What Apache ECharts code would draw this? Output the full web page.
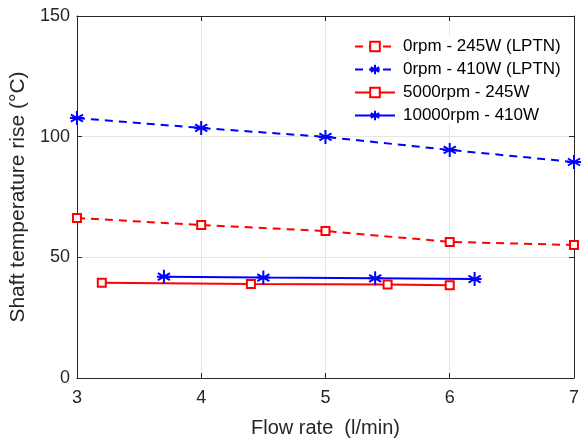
<!DOCTYPE html>
<html><head><meta charset="utf-8">
<script src="https://cdn.jsdelivr.net/npm/echarts@6/dist/echarts.min.js"></script>
<style>html,body{margin:0;padding:0;background:#fff;overflow:hidden}#c{width:582px;height:443px}</style>
</head><body><div id="c"></div>
<script>
const xLPTN = [3, 4, 5, 6, 7];
const y0rpm245 = [66.3, 63.4, 60.9, 56.4, 55.1];
const y0rpm410 = [107.7, 103.6, 99.9, 94.5, 89.5];
const x5000 = [3.2, 4.4, 5.5, 6.0];
const y5000 = [39.5, 39.0, 38.7, 38.4];
const x10000 = [3.7, 4.5, 5.4, 6.2];
const y10000 = [42.0, 41.6, 41.3, 41.0];
const seriesNames = ['0rpm - 245W (LPTN)', '0rpm - 410W (LPTN)', '5000rpm - 245W', '10000rpm - 410W'];

const RED = '#ff0000', BLUE = '#0000ff', AX = '#262626';
const STAR = 'path://M5,0L5,10M0.67,2.5L9.33,7.5M0.67,7.5L9.33,2.5M0,5L10,5';
const zip = (xs, ys) => xs.map((x, i) => [x, ys[i]]);
const font = 'Liberation Sans, Arial, sans-serif';

function mk(name, data, color, dashed, star) {
  return {
    name, type: 'line', data, xAxisIndex: 0, yAxisIndex: 0,
    symbol: star ? STAR : 'rect',
    symbolSize: star ? [14, 14] : 8,
    symbolKeepAspect: true,
    showSymbol: true,
    lineStyle: { color, width: 2, type: dashed ? [8, 6] : 'solid' },
    itemStyle: { color: star ? color : '#fff', borderColor: color, borderWidth: 2 },
    emphasis: { disabled: true },
    animation: false, z: 3
  };
}

const chart = echarts.init(document.getElementById('c'));
chart.setOption({
  animation: false,
  textStyle: { fontFamily: font },
  grid: { left: 74, right: 4, top: 16, bottom: 65, show: false },
  legend: {
    left: 352, top: 36, orient: 'vertical', itemGap: 6,
    itemWidth: 40, itemHeight: 12,
    backgroundColor: '#fff', padding: [2, 4, 2, 2],
    textStyle: { fontSize: 17, color: '#000', fontFamily: font, padding: [0, 0, 0, 3] },
    data: seriesNames
  },
  xAxis: [{
    type: 'value', min: 3, max: 7, interval: 1,
    name: 'Flow rate  (l/min)', nameLocation: 'middle', nameGap: 40,
    nameTextStyle: { fontSize: 20, color: AX, fontFamily: font },
    axisLine: { show: true, lineStyle: { color: AX, width: 1 } },
    axisTick: { show: true, inside: true, length: 5, lineStyle: { color: AX } },
    axisLabel: { fontSize: 18, color: AX, margin: 11, fontFamily: font },
    splitLine: { show: true, lineStyle: { color: '#e6e6e6', width: 1 } }
  }, {
    type: 'value', min: 3, max: 7, interval: 1, position: 'top',
    axisLine: { show: true, onZero: false, lineStyle: { color: AX, width: 1 } },
    axisTick: { show: true, inside: true, length: 5, lineStyle: { color: AX } },
    axisLabel: { show: false }, splitLine: { show: false }
  }],
  yAxis: [{
    type: 'value', min: 0, max: 150, interval: 50,
    name: 'Shaft temperature rise (°C)', nameLocation: 'middle', nameGap: 46,
    nameTextStyle: { fontSize: 21, color: AX, fontFamily: font },
    axisLine: { show: true, lineStyle: { color: AX, width: 1 } },
    axisTick: { show: true, inside: true, length: 5, lineStyle: { color: AX } },
    axisLabel: { fontSize: 18, color: AX, margin: 7, fontFamily: font },
    splitLine: { show: true, lineStyle: { color: '#e6e6e6', width: 1 } }
  }, {
    type: 'value', min: 0, max: 150, interval: 50, position: 'right',
    axisLine: { show: true, onZero: false, lineStyle: { color: AX, width: 1 } },
    axisTick: { show: true, inside: true, length: 5, lineStyle: { color: AX } },
    axisLabel: { show: false }, splitLine: { show: false }
  }],
  series: [
    mk(seriesNames[0], zip(xLPTN, y0rpm245), RED, true, false),
    mk(seriesNames[1], zip(xLPTN, y0rpm410), BLUE, true, true),
    mk(seriesNames[2], zip(x5000, y5000), RED, false, false),
    mk(seriesNames[3], zip(x10000, y10000), BLUE, false, true)
  ]
});
</script></body></html>
